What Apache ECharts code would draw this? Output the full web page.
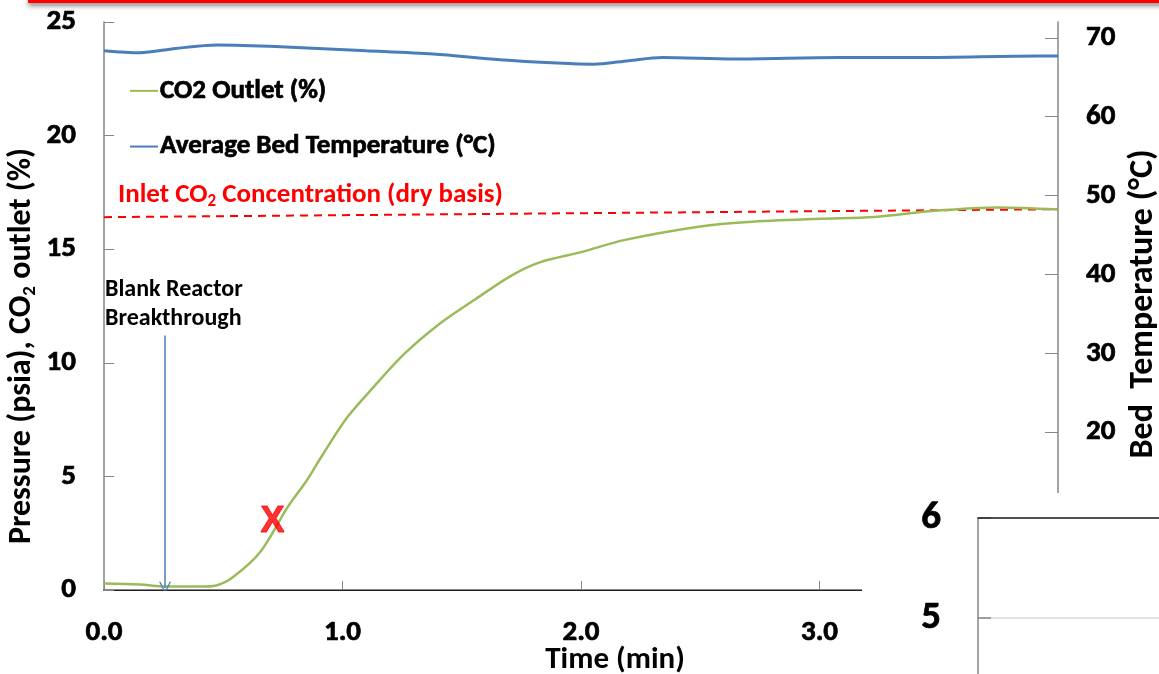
<!DOCTYPE html>
<html>
<head>
<meta charset="utf-8">
<script src="https://cdn.jsdelivr.net/npm/echarts@6/dist/echarts.min.js"></script>
<style>
  html, body { margin: 0; padding: 0; background: #fff; }
  #chart { width: 1159px; height: 674px; }
</style>
</head>
<body>
<div id="chart"></div>
<script>
// CO2 outlet (%) vs time (min)
var co2Time = [0, 0.15, 0.26, 0.40, 0.47, 0.54, 0.655, 0.77, 0.85, 0.92, 1.02, 1.13, 1.26, 1.41, 1.55, 1.71, 1.83, 2.0, 2.18, 2.5, 2.7, 3.0, 3.23, 3.48, 3.75, 4.0];
var co2Outlet = [0.29, 0.24, 0.15, 0.15, 0.2, 0.56, 1.67, 3.65, 4.82, 6.01, 7.6, 8.93, 10.4, 11.74, 12.75, 13.85, 14.43, 14.87, 15.4, 16.0, 16.2, 16.34, 16.42, 16.69, 16.84, 16.75];

// average bed temperature (°C) vs time (min)
var tempTime = [0, 0.15, 0.3, 0.475, 0.74, 1.1, 1.38, 1.66, 1.9, 2.05, 2.2, 2.34, 2.64, 3.08, 3.43, 3.92, 4.0];
var bedTemp = [68.36, 68.1, 68.65, 69.07, 68.86, 68.36, 67.94, 67.22, 66.8, 66.65, 67.1, 67.5, 67.3, 67.5, 67.5, 67.7, 67.7];

// inlet CO2 reference line
var inletTime = [0, 4];
var inletCO2 = [16.41, 16.76];

// annotations
var xMark = [0.706, 3.0];
var arrowTime = 0.256;
var arrowRange = [11.2, 0.1];

var xTicks = [0, 4, 1];        // min, max, interval
var leftTicks = [0, 25, 5];
var rightTicks = [0, 72, 10];
var insetTicks = [4, 6, 1];

function zip(a, b) {
  return a.map(function (v, i) { return [v, b[i]]; });
}

var FONT = 'Carlito, Lato, "Open Sans", sans-serif';
var axisGrey = '#868686';

// labels look heavier in the slide, thicken a little
function boldLabel(size, extra) {
  var s = {
    color: '#000', fontWeight: 'bold', fontSize: size, fontFamily: FONT,
    textBorderColor: '#000', textBorderWidth: 0.7
  };
  for (var k in extra) s[k] = extra[k];
  return s;
}

var chart = echarts.init(document.getElementById('chart'));

var option = {
  animation: false,
  backgroundColor: '#fff',
  textStyle: { fontFamily: FONT, fontWeight: 'bold' },
  grid: [
    { left: 104, top: 22, right: 101, bottom: 84, outerBoundsMode: 'none' },
    { left: 978, top: 518, width: 300, height: 200, z: 60, outerBoundsMode: 'none' }
  ],
  legend: {
    data: ['CO2 Outlet (%)', 'Average Bed Temperature (°C)'],
    orient: 'vertical',
    left: 130,
    top: 77,
    padding: 0,
    itemGap: 28,
    itemWidth: 28,
    itemHeight: 2,
    icon: 'rect',
    textStyle: boldLabel(27, { padding: [0, 0, 0, -3] })
  },
  xAxis: [
    {
      type: 'value', gridIndex: 0,
      min: xTicks[0], max: xTicks[1], interval: xTicks[2],
      axisLine: { lineStyle: { color: axisGrey, width: 2 } },
      axisTick: { inside: true, length: 9, lineStyle: { color: axisGrey } },
      splitLine: { show: false },
      axisLabel: boldLabel(29, {
        margin: 28,
        formatter: function (v) { return v.toFixed(1); }
      })
    },
    {
      type: 'value', gridIndex: 0, position: 'top',
      min: xTicks[0], max: xTicks[1],
      axisLine: { lineStyle: { color: '#222', width: 1 } },
      axisTick: { show: false }, axisLabel: { show: false }, splitLine: { show: false }
    },
    {
      type: 'value', gridIndex: 1, min: 0, max: 1, z: 60,
      axisLine: { show: false }, axisTick: { show: false }, axisLabel: { show: false }, splitLine: { show: false }
    },
    {
      type: 'value', gridIndex: 1, position: 'top', min: 0, max: 1, z: 61,
      axisLine: { lineStyle: { color: '#222', width: 1.5 } },
      axisTick: { show: false }, axisLabel: { show: false }, splitLine: { show: false }
    }
  ],
  yAxis: [
    {
      type: 'value', gridIndex: 0,
      min: leftTicks[0], max: leftTicks[1], interval: leftTicks[2],
      axisLine: { show: true, onZero: false, lineStyle: { color: axisGrey, width: 1.5 } },
      axisTick: { show: true, inside: true, length: 10, lineStyle: { color: axisGrey } },
      splitLine: { show: false },
      axisLabel: boldLabel(29, { margin: 28 })
    },
    {
      type: 'value', gridIndex: 0, position: 'right',
      min: rightTicks[0], max: rightTicks[1], interval: rightTicks[2],
      axisLine: { show: true, onZero: false, lineStyle: { color: axisGrey, width: 1.5 } },
      axisTick: { show: true, inside: true, length: 13, lineStyle: { color: axisGrey } },
      splitLine: { show: false },
      axisLabel: boldLabel(29, { margin: 28, showMaxLabel: false })
    },
    {
      type: 'value', gridIndex: 1, z: 60,
      min: insetTicks[0], max: insetTicks[1], interval: insetTicks[2],
      axisLine: { show: true, onZero: false, lineStyle: { color: axisGrey, width: 1.5 } },
      axisTick: { show: true, inside: true, length: 13, lineStyle: { color: axisGrey, width: 1.5 } },
      splitLine: { show: true, lineStyle: { color: '#d9d9d9', width: 1.5 } },
      axisLabel: boldLabel(39, { margin: 37 })
    }
  ],
  series: [
    {
      name: 'Inlet CO2',
      type: 'line',
      xAxisIndex: 0, yAxisIndex: 0,
      data: zip(inletTime, inletCO2),
      showSymbol: false,
      lineStyle: { color: '#ff0000', width: 2, type: [8, 6] },
      z: 3
    },
    {
      name: 'CO2 Outlet (%)',
      type: 'line',
      xAxisIndex: 0, yAxisIndex: 0,
      data: zip(co2Time, co2Outlet),
      showSymbol: false,
      smooth: 0.3,
      color: '#9bbb59',
      lineStyle: { color: '#9bbb59', width: 2.5 },
      z: 4
    },
    {
      name: 'Average Bed Temperature (°C)',
      type: 'line',
      xAxisIndex: 0, yAxisIndex: 1,
      data: zip(tempTime, bedTemp),
      showSymbol: false,
      smooth: 0.3,
      color: '#4a7ebb',
      lineStyle: { color: '#4a7ebb', width: 3 },
      z: 4
    },
    {
      name: 'marker',
      type: 'scatter',
      xAxisIndex: 0, yAxisIndex: 0,
      data: [xMark],
      symbolSize: 1,
      itemStyle: { color: 'rgba(0,0,0,0)' },
      label: {
        show: true, position: 'inside', formatter: 'X',
        color: '#ff0000', fontWeight: 'bold', fontSize: 36, fontFamily: '"Liberation Sans", Arial, sans-serif',
        textBorderColor: '#ff0000', textBorderWidth: 1
      },
      z: 6
    },
    {
      name: 'arrow',
      type: 'lines',
      coordinateSystem: 'cartesian2d',
      xAxisIndex: 0, yAxisIndex: 0,
      data: [{ coords: [[arrowTime, arrowRange[0]], [arrowTime, arrowRange[1]]] }],
      symbol: ['none', 'path://M5,0 L10,11 L8.8,11 L5,2.6 L1.2,11 L0,11 Z'],
      symbolSize: [10, 12],
      lineStyle: { color: '#4a7ebb', width: 1.5, opacity: 1, curveness: 0 },
      itemStyle: { color: '#4a7ebb' },
      z: 5
    }
  ],
  graphic: [
    {
      type: 'rect', z: 100,
      shape: { x: 28, y: -3, width: 1140, height: 6 },
      style: { fill: '#ff0000', shadowBlur: 5, shadowOffsetY: 3, shadowColor: 'rgba(0,0,0,0.45)' }
    },
    {
      type: 'rect', z: 50,
      shape: { x: 862, y: 493, width: 300, height: 190 },
      style: { fill: '#ffffff' }
    },
    {
      type: 'text', z: 55,
      x: 22, y: 346, rotation: Math.PI / 2,
      style: {
        text: 'Pressure (psia), CO{sub|2} outlet (%)',
        x: 0, y: 0, align: 'center', verticalAlign: 'middle',
        font: 'bold 32px ' + FONT, fill: '#000',
        rich: { sub: { font: 'bold 19px ' + FONT, fill: '#000', padding: [16, 0, 0, 0] } }
      }
    },
    {
      type: 'text', z: 55,
      x: 1143, y: 304, rotation: Math.PI / 2,
      style: {
        text: 'Bed  Temperature (°C)',
        x: 0, y: 0, align: 'center', verticalAlign: 'middle',
        font: 'bold 34px ' + FONT, fill: '#000'
      }
    },
    {
      type: 'text', z: 55,
      x: 615, y: 660,
      style: {
        text: 'Time (min)',
        x: 0, y: 0, align: 'center', verticalAlign: 'middle',
        font: 'bold 31px ' + FONT, fill: '#000'
      }
    },
    {
      type: 'text', z: 55,
      x: 118, y: 195,
      style: {
        text: 'Inlet CO{sub|2} Concentration (dry basis)',
        x: 0, y: 0, align: 'left', verticalAlign: 'middle',
        font: 'bold 27px ' + FONT, fill: '#ff0000',
        rich: { sub: { font: 'bold 17px ' + FONT, fill: '#ff0000', padding: [13, 0, 0, 0] } }
      }
    },
    {
      type: 'text', z: 55,
      x: 105, y: 290,
      style: {
        text: 'Blank Reactor',
        x: 0, y: 0, align: 'left', verticalAlign: 'middle',
        font: 'bold 24px ' + FONT, fill: '#000'
      }
    },
    {
      type: 'text', z: 55,
      x: 105, y: 319,
      style: {
        text: 'Breakthrough',
        x: 0, y: 0, align: 'left', verticalAlign: 'middle',
        font: 'bold 24px ' + FONT, fill: '#000'
      }
    }
  ]
};

chart.setOption(option);
</script>
</body>
</html>
